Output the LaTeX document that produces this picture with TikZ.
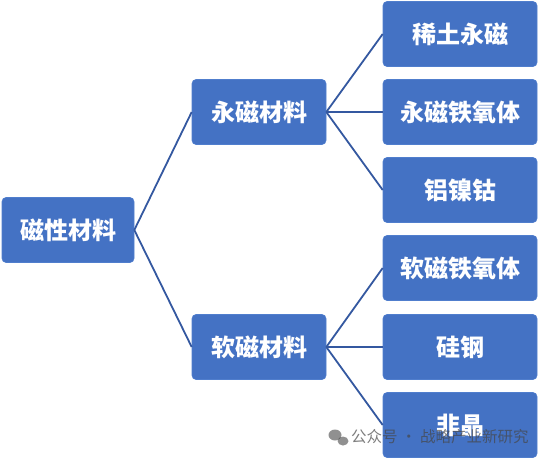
\documentclass[tikz,border=0pt]{standalone}
\usepackage{fontspec}
\newfontfamily\cjk{Noto Sans CJK SC}
\definecolor{boxblue}{RGB}{68,114,196}
\definecolor{boxedge}{RGB}{80,126,205}
\definecolor{linkblue}{RGB}{52,88,160}
\definecolor{wmgray}{RGB}{70,70,70}
\begin{document}
\begin{tikzpicture}[x=1pt,y=-1pt,
  box/.style={rectangle, rounded corners=4pt, fill=boxblue, draw=boxedge, line width=0.6pt,
    text=white, font=\cjk\bfseries\fontsize{24}{27}\selectfont, inner sep=0pt, minimum height=65pt},
  rootbox/.style={box, minimum width=132pt},
  midbox/.style={box, minimum width=134pt},
  leafbox/.style={box, minimum width=154pt},
  link/.style={draw=linkblue, line width=1.8pt},
  wm/.style={text=wmgray, text opacity=0.7, font=\cjk\fontsize{15.5}{18}\selectfont, inner sep=0pt, anchor=west}]
\useasboundingbox (0,0) rectangle (540,459);
\node[rootbox] (root) at (68,230) {磁性材料};
\node[midbox] (m1) at (259,112) {永磁材料};
\node[midbox] (m2) at (259,347) {软磁材料};
\node[leafbox] (l1) at (460,34) {稀土永磁};
\node[leafbox] (l2) at (460,112) {永磁铁氧体};
\node[leafbox] (l3) at (460,190) {铝镍钴};
\node[leafbox] (l4) at (460,268) {软磁铁氧体};
\node[leafbox] (l5) at (460,347) {硅钢};
\node[leafbox] (l6) at (460,425) {非晶};
\draw[link] (root.east) -- (m1.west);
\draw[link] (root.east) -- (m2.west);
\draw[link] (m1.east) -- (l1.west);
\draw[link] (m1.east) -- (l2.west);
\draw[link] (m1.east) -- (l3.west);
\draw[link] (m2.east) -- (l4.west);
\draw[link] (m2.east) -- (l5.west);
\draw[link] (m2.east) -- (l6.west);
% watermark
\fill[wmgray, opacity=0.6] (335,435) ellipse (6.5pt and 5.5pt);
\fill[wmgray, opacity=0.6] (343,441) ellipse (5.5pt and 4.5pt);
\node[wm] (wmtext) at (351,437) {公众号 · 战略产业新研究};
\end{tikzpicture}
\end{document}
